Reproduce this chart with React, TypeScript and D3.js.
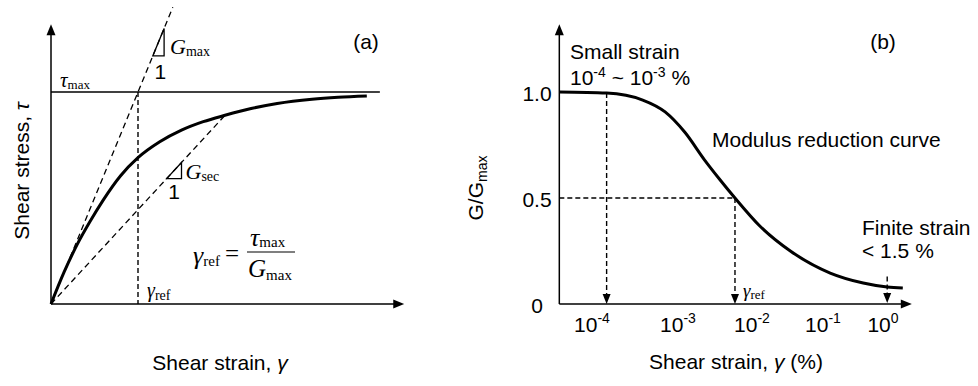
import React from "react";
import * as d3 from "d3";

const SANS = "'Liberation Sans', Arial, sans-serif";
const SERIF = "'Liberation Serif', 'Times New Roman', serif";

// (a) backbone curve: strain in units of gamma_ref, stress in units of tau_max
const backboneStrain = [0, 0.15, 0.3, 0.45, 0.6, 0.8, 1.0, 1.25, 1.5, 1.75, 2.0, 2.3, 2.6, 3.0, 3.3, 3.63];
const backboneStress = [0, 0.15, 0.28, 0.39, 0.49, 0.605, 0.69, 0.765, 0.82, 0.86, 0.89, 0.922, 0.946, 0.966, 0.975, 0.981];
const gmaxEnd = 1.4;
const secantStrain = 2.0;
const secantStress = 0.89;
const tauMaxLineEnd = 3.78;
const strainAxisMaxA = 4.06;
const stressAxisMax = 1.32;
const gmaxTriStart = 1.17;
const gmaxTriWidth = 0.13;
const gsecTriStart = 1.33;
const gsecTriWidth = 0.17;

// (b) modulus reduction curve: log10 of strain (%) vs G/Gmax
const logStrainTicks = [-4, -3, -2, -1, 0];
const tickExponents = ["-4", "-3", "-2", "-1", "0"];
const modLogStrain = [-4.38, -3.83, -3.41, -3.15, -2.91, -2.64, -2.43, -2.23, -1.89, -1.46, -0.88, -0.33, 0.07, 0.33];
const modRatio = [1.0, 0.995, 0.962, 0.906, 0.811, 0.679, 0.585, 0.5, 0.368, 0.25, 0.146, 0.099, 0.08, 0.075];
const ratioTicks = [0, 0.5, 1];
const ratioTickLabels = ["0", "0.5", "1.0"];
const axisLogMin = -4.38;
const axisLogMax = 0.48;
const axisRatioMax = 1.32;
const smallStrainLog = -3.83;
const smallStrainRatio = 0.995;
const refStrainLog = -2.23;
const refRatio = 0.5;
const finiteStrainLog = 0.07;
const finiteDashTop = 0.13;

const arrowDown = (x: number, y: number) => `M${x},${y}L${x - 4},${y - 10}L${x + 4},${y - 10}Z`;
const arrowUp = (x: number, y: number) => `M${x},${y}L${x - 4.5},${y + 11}L${x + 4.5},${y + 11}Z`;
const arrowRight = (x: number, y: number) => `M${x},${y}L${x - 11},${y - 4.5}L${x - 11},${y + 4.5}Z`;

export default function App() {
  const xA = d3.scaleLinear().domain([0, 4]).range([51, 399]);
  const yA = d3.scaleLinear().domain([0, 1]).range([304, 92]);
  const xB = d3.scaleLinear().domain(logStrainTicks).range([592, 678, 752, 823, 883]);
  const yB = d3.scaleLinear().domain([0, 1]).range([304, 92]);

  const backbone = d3.line<number>()
    .x(d => xA(d))
    .y((_, i) => yA(backboneStress[i]))
    .curve(d3.curveMonotoneX)(backboneStrain) as string;

  const modCurve = d3.line<number>()
    .x(d => xB(d))
    .y((_, i) => yB(modRatio[i]))
    .curve(d3.curveMonotoneX)(modLogStrain) as string;

  const secSlope = secantStress / secantStrain;
  const tri = (g0: number, w: number, s: number) =>
    `M${xA(g0)},${yA(g0 * s)}H${xA(g0 + w)}V${yA((g0 + w) * s)}Z`;

  const dashed = { stroke: "#000", strokeWidth: 1.3, strokeDasharray: "6,4", fill: "none" };
  const vdash = { stroke: "#000", strokeWidth: 1.4, strokeDasharray: "5,3", fill: "none" };

  const ox = xA(0), oy = yA(0);
  const bx0 = xB(axisLogMin), by0 = yB(0);

  return (
    <svg width={978} height={386} style={{ position: "absolute", left: 0, top: 0, background: "#fff" }}>
      {/* ---------- panel (a) ---------- */}
      <g>
        <line x1={ox} y1={oy} x2={ox} y2={yA(stressAxisMax) + 8} stroke="#000" strokeWidth={1.5} />
        <path d={arrowUp(ox, yA(stressAxisMax))} fill="#000" />
        <line x1={ox} y1={oy} x2={xA(strainAxisMaxA) - 8} y2={oy} stroke="#000" strokeWidth={1.5} />
        <path d={arrowRight(xA(strainAxisMaxA), oy)} fill="#000" />

        <line x1={ox} y1={yA(1)} x2={xA(tauMaxLineEnd)} y2={yA(1)} stroke="#000" strokeWidth={1.3} />
        <line x1={ox} y1={oy} x2={xA(gmaxEnd)} y2={yA(gmaxEnd)} {...dashed} />
        <line x1={ox} y1={oy} x2={xA(secantStrain)} y2={yA(secantStress)} {...dashed} />
        <line x1={xA(1)} y1={yA(1)} x2={xA(1)} y2={oy} {...vdash} />
        <path d={backbone} fill="none" stroke="#000" strokeWidth={3} />

        <path d={tri(gmaxTriStart, gmaxTriWidth, 1)} fill="none" stroke="#000" strokeWidth={1.3} />
        <path d={tri(gsecTriStart, gsecTriWidth, secSlope)} fill="none" stroke="#000" strokeWidth={1.3} />

        <text x={xA(gmaxTriStart + gmaxTriWidth) + 6} y={yA(gmaxTriStart) - 2} fontFamily={SERIF}>
          <tspan fontSize={22} fontStyle="italic">G</tspan>
          <tspan fontSize={14} dy={2}>max</tspan>
        </text>
        <text x={xA(gmaxTriStart + gmaxTriWidth / 2) + 2} y={yA(gmaxTriStart) + 23} fontFamily={SANS} fontSize={21} textAnchor="middle">1</text>

        <text x={xA(gsecTriStart + gsecTriWidth) + 4} y={yA(gsecTriStart * secSlope)} fontFamily={SERIF}>
          <tspan fontSize={22} fontStyle="italic">G</tspan>
          <tspan fontSize={14} dy={2}>sec</tspan>
        </text>
        <text x={xA(gsecTriStart + gsecTriWidth / 2)} y={yA(gsecTriStart * secSlope) + 20} fontFamily={SANS} fontSize={21} textAnchor="middle">1</text>

        <text x={ox + 9} y={yA(1) - 5} fontFamily={SERIF}>
          <tspan fontSize={21} fontStyle="italic">τ</tspan>
          <tspan fontSize={13} dy={2}>max</tspan>
        </text>
        <text x={xA(1) + 9} y={oy - 7} fontFamily={SERIF}>
          <tspan fontSize={20} fontStyle="italic">γ</tspan>
          <tspan fontSize={14} dy={3}>ref</tspan>
        </text>

        {/* formula */}
        <text x={193} y={264} fontFamily={SERIF}>
          <tspan fontSize={26} fontStyle="italic">γ</tspan>
          <tspan fontSize={15} dy={2}>ref</tspan>
        </text>
        <text x={225} y={262} fontFamily={SERIF} fontSize={25}>=</text>
        <line x1={247} y1={252} x2={295} y2={252} stroke="#000" strokeWidth={1.1} />
        <text x={250} y={246} fontFamily={SERIF}>
          <tspan fontSize={26} fontStyle="italic">τ</tspan>
          <tspan fontSize={15} dy={1}>max</tspan>
        </text>
        <text x={248} y={277} fontFamily={SERIF}>
          <tspan fontSize={25} fontStyle="italic">G</tspan>
          <tspan fontSize={15} dy={3}>max</tspan>
        </text>

        <text x={366} y={49} fontFamily={SANS} fontSize={21} textAnchor="middle">(a)</text>
        <text x={220} y={370} fontFamily={SANS} fontSize={21} textAnchor="middle">
          Shear strain, <tspan fontStyle="italic">γ</tspan>
        </text>
        <text transform="translate(29,171) rotate(-90)" fontFamily={SANS} fontSize={21} textAnchor="middle">
          Shear stress, <tspan fontStyle="italic">τ</tspan>
        </text>
      </g>

      {/* ---------- panel (b) ---------- */}
      <g>
        <line x1={bx0} y1={by0} x2={bx0} y2={yB(axisRatioMax) + 8} stroke="#000" strokeWidth={1.5} />
        <path d={arrowUp(bx0, yB(axisRatioMax))} fill="#000" />
        <line x1={bx0} y1={by0} x2={xB(axisLogMax) - 8} y2={by0} stroke="#000" strokeWidth={1.5} />
        <path d={arrowRight(xB(axisLogMax), by0)} fill="#000" />

        {ratioTicks.map((t, i) => (
          <text key={t} x={537} y={yB(t) + 9} fontFamily={SANS} fontSize={21} textAnchor="middle">
            {ratioTickLabels[i]}
          </text>
        ))}
        {logStrainTicks.map((t, i) => (
          <text key={t} x={xB(t)} y={332} fontFamily={SANS} fontSize={21} textAnchor="middle">
            10<tspan fontSize={14} dy={-9}>{tickExponents[i]}</tspan>
          </text>
        ))}

        <line x1={bx0} y1={yB(refRatio)} x2={xB(refStrainLog)} y2={yB(refRatio)} {...vdash} />
        <line x1={xB(refStrainLog)} y1={yB(refRatio)} x2={xB(refStrainLog)} y2={by0 - 9} {...vdash} />
        <path d={arrowDown(xB(refStrainLog), by0)} fill="#000" />
        <line x1={xB(smallStrainLog)} y1={yB(smallStrainRatio)} x2={xB(smallStrainLog)} y2={by0 - 9} {...vdash} />
        <path d={arrowDown(xB(smallStrainLog), by0)} fill="#000" />
        <line x1={xB(finiteStrainLog)} y1={yB(finiteDashTop)} x2={xB(finiteStrainLog)} y2={by0 - 9} {...vdash} />
        <path d={arrowDown(xB(finiteStrainLog), by0 - 1)} fill="#000" />

        <path d={modCurve} fill="none" stroke="#000" strokeWidth={3} />

        <text x={xB(refStrainLog) + 8} y={297} fontFamily={SERIF}>
          <tspan fontSize={19} fontStyle="italic">γ</tspan>
          <tspan fontSize={13} dy={2}>ref</tspan>
        </text>

        <text x={570} y={59} fontFamily={SANS} fontSize={21}>Small strain</text>
        <text x={570} y={85} fontFamily={SANS} fontSize={21}>
          10<tspan fontSize={14} dy={-8}>-4</tspan>
          <tspan dy={8}> ~ 10</tspan>
          <tspan fontSize={14} dy={-8}>-3</tspan>
          <tspan dy={8}> %</tspan>
        </text>
        <text x={712} y={147} fontFamily={SANS} fontSize={21}>Modulus reduction curve</text>
        <text x={862} y={235} fontFamily={SANS} fontSize={21}>Finite strain</text>
        <text x={862} y={258} fontFamily={SANS} fontSize={21}>&lt; 1.5 %</text>

        <text x={883} y={49} fontFamily={SANS} fontSize={21} textAnchor="middle">(b)</text>
        <text x={736} y={369} fontFamily={SANS} fontSize={21} textAnchor="middle">
          Shear strain, <tspan fontStyle="italic">γ</tspan> (%)
        </text>
        <text transform="translate(483,188) rotate(-90)" fontFamily={SANS} fontSize={21} textAnchor="middle">
          G/G<tspan fontSize={14} dy={4}>max</tspan>
        </text>
      </g>
    </svg>
  );
}
